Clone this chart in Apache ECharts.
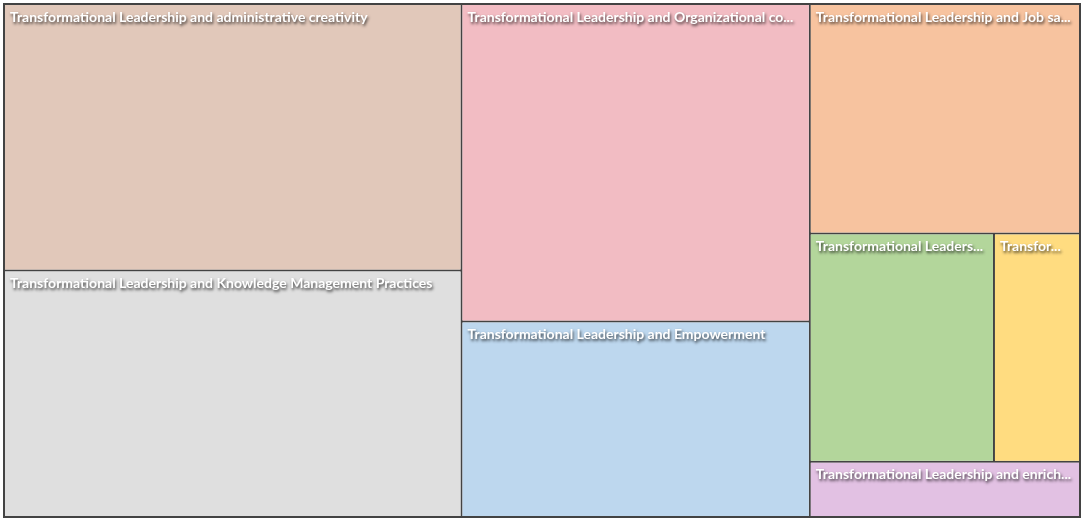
<!DOCTYPE html>
<html>
<head>
<meta charset="utf-8">
<script src="https://cdn.jsdelivr.net/npm/echarts@6/dist/echarts.min.js"></script>
<style>
  html, body { margin: 0; padding: 0; background: #fff; }
  #treemapChart { width: 1084px; height: 521px; }
</style>
</head>
<body>
<div id="treemapChart"></div>
<script>
// topic names (share of studies, %)
var topicNames = [
  'Transformational Leadership and administrative creativity',
  'Transformational Leadership and Knowledge Management Practices',
  'Transformational Leadership and Organizational commitment',
  'Transformational Leadership and Empowerment',
  'Transformational Leadership and Job satisfaction',
  'Transformational Leadership and Organizational Citizenship Behavior',
  'Transformational Leadership and Innovation',
  'Transformational Leadership and enrichment'
]
var topicValues = [22.09, 20.43, 20.04, 12.33, 11.23, 7.62, 3.56, 2.70]
var topicColors = ['#e1c8ba', '#dfdfdf', '#f2bcc3', '#bdd7ee', '#f7c39f', '#b3d69b', '#ffdc80', '#e2c1e3']

var chart = echarts.init(document.getElementById('treemapChart'))

var seriesData = topicNames.map(function (name, i) {
  return {
    name: name,
    value: topicValues[i],
    itemStyle: { color: topicColors[i] }
  }
})

var option = {
  animation: false,
  series: [{
    type: 'treemap',
    left: 3,
    top: 3,
    width: 1078,
    height: 515,
    roam: false,
    nodeClick: false,
    breadcrumb: { show: false },
    sort: 'desc',
    levels: [{
      itemStyle: {
        borderColor: '#434343',
        borderWidth: 2,
        gapWidth: 2
      }
    }, {
      itemStyle: {
        borderWidth: 0
      }
    }],
    label: {
      show: true,
      position: 'insideTopLeft',
      distance: 0,
      padding: [5, 6, 0, 5],
      color: '#fff',
      fontFamily: 'Lato',
      fontWeight: 'bold',
      fontSize: 14,
      overflow: 'truncate',
      ellipsis: '...',
      textShadowColor: 'rgba(0,0,0,0.75)',
      textShadowBlur: 3,
      textShadowOffsetX: 1,
      textShadowOffsetY: 2
    },
    data: seriesData
  }]
}
chart.setOption(option, true)
</script>
</body>
</html>
